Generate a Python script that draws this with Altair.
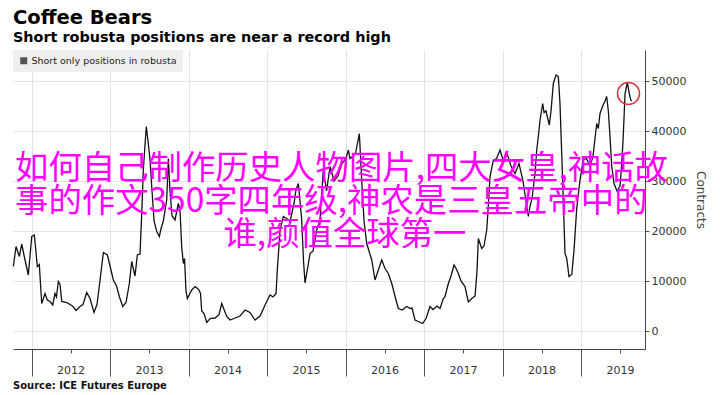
import altair as alt
import pandas as pd

# ---- data (decimal year, contracts) ----
years = [
    2011.768, 2011.803, 2011.845, 2011.875, 2011.917, 2011.959, 2012.003, 2012.036, 2012.074, 2012.099,
    2012.130, 2012.172, 2012.201, 2012.236, 2012.270, 2012.299, 2012.318, 2012.341, 2012.363, 2012.385,
    2012.448, 2012.490, 2012.529, 2012.567, 2012.618, 2012.656, 2012.703, 2012.745, 2012.796, 2012.834,
    2012.873, 2012.915, 2012.966, 2013.000, 2013.042, 2013.083, 2013.118, 2013.162, 2013.204, 2013.246,
    2013.276, 2013.318, 2013.348, 2013.382, 2013.404, 2013.424, 2013.462, 2013.484, 2013.510, 2013.535,
    2013.561, 2013.595, 2013.628, 2013.650, 2013.679, 2013.722, 2013.743, 2013.764, 2013.790, 2013.828,
    2013.870, 2013.892, 2013.913, 2013.934, 2013.949, 2013.968, 2013.985, 2014.041, 2014.083, 2014.108,
    2014.134, 2014.153, 2014.168, 2014.197, 2014.232, 2014.274, 2014.338, 2014.389, 2014.423, 2014.452,
    2014.487, 2014.529, 2014.580, 2014.656, 2014.720, 2014.783, 2014.847, 2014.911, 2014.975, 2015.038,
    2015.076, 2015.115, 2015.131, 2015.166, 2015.208, 2015.251, 2015.293, 2015.344, 2015.369, 2015.399,
    2015.442, 2015.465, 2015.484, 2015.522, 2015.548, 2015.586, 2015.633, 2015.675, 2015.717, 2015.758,
    2015.803, 2015.854, 2015.904, 2015.955, 2016.006, 2016.036, 2016.057, 2016.096, 2016.127, 2016.176,
    2016.206, 2016.236, 2016.270, 2016.299, 2016.334, 2016.376, 2016.418, 2016.461, 2016.503, 2016.545,
    2016.589, 2016.631, 2016.673, 2016.720, 2016.780, 2016.822, 2016.847, 2016.885, 2016.927, 2016.983,
    2017.025, 2017.076, 2017.115, 2017.166, 2017.204, 2017.246, 2017.268, 2017.310, 2017.344, 2017.382,
    2017.408, 2017.437, 2017.471, 2017.522, 2017.564, 2017.608, 2017.650, 2017.675, 2017.692, 2017.735,
    2017.764, 2017.799, 2017.819, 2017.841, 2017.883, 2017.924, 2017.968, 2018.010, 2018.057, 2018.108,
    2018.159, 2018.210, 2018.261, 2018.308, 2018.329, 2018.350, 2018.376, 2018.414, 2018.436, 2018.456,
    2018.478, 2018.512, 2018.529, 2018.554, 2018.596, 2018.618, 2018.647, 2018.682, 2018.711, 2018.732,
    2018.754, 2018.775, 2018.796, 2018.818, 2018.847, 2018.882, 2018.911, 2018.945, 2018.987, 2019.029,
    2019.070, 2019.115, 2019.153, 2019.178, 2019.200, 2019.220, 2019.242, 2019.276, 2019.306, 2019.327,
    2019.348, 2019.369, 2019.391, 2019.420, 2019.459, 2019.497, 2019.516, 2019.535, 2019.561, 2019.590,
    2019.615, 2019.633, 2019.646,
]
short_positions = [
    12900, 16900, 14900, 17400, 14200, 11200, 18900, 19200, 12900, 13300,
    5500, 7500, 6200, 5900, 5200, 7500, 6800, 9900, 9300, 5900,
    5700, 5300, 4900, 4100, 4900, 5300, 7700, 6500, 3700, 5300,
    10200, 15700, 15200, 13000, 10200, 9000, 6900, 4900, 5700, 9500,
    13900, 11000, 15200, 15400, 23500, 32200, 40900, 38000, 34200, 28000,
    22000, 19900, 18900, 20500, 22000, 26200, 34500, 28000, 23000, 22200,
    25500, 24000, 16900, 13500, 14500, 8000, 6500, 8200, 8900, 8600,
    8200, 7500, 4000, 3500, 1700, 2500, 2600, 3300, 5500, 4300,
    2900, 2200, 2500, 3000, 4200, 3700, 2200, 3000, 5200, 7200,
    6800, 7500, 12200, 20200, 22900, 22500, 21900, 25500, 28200, 29500,
    22200, 14000, 9600, 13000, 15500, 16000, 20200, 22200, 32200, 28000,
    32900, 30000, 31000, 33500, 34500, 36200, 34500, 35000, 35500, 39500,
    30200, 22000, 17500, 16000, 14200, 10200, 12200, 14200, 12500, 11500,
    9500, 6900, 4500, 4200, 4900, 4500, 4600, 2200, 1900, 1500,
    2500, 4900, 4300, 5000, 4500, 6500, 6900, 9500, 11000, 13200,
    12500, 11500, 10000, 8900, 5800, 6500, 7000, 12000, 18500, 16500,
    17000, 20200, 25000, 30900, 34200, 34500, 36200, 34000, 35500, 33000,
    31500, 33500, 30000, 25000, 22900, 24900, 26500, 31500, 36200, 38900,
    42200, 45500, 43700, 44000, 41200, 44000, 49500, 51200, 50900, 45500,
    35500, 25500, 15500, 14500, 10900, 11300, 16200, 24500, 30200, 34200,
    34500, 32900, 35000, 38500, 41500, 40500, 43500, 45000, 46000, 46900,
    44000, 39000, 33000, 29500, 28000, 29000, 33000, 38000, 47500, 49700,
    47500, 46200, 46000,
]
series_name = "Short only positions in robusta"

x_tick_values = [2012 + q / 4 for q in range(32)]      # quarterly ticks
y_tick_values = list(range(0, 50001, 5000))

highlight_year = [2019.605]
highlight_value = [47500]

overlay_lines = [
    "如何自己制作历史人物图片,四大女皇,神话故",
    "事的作文350字四年级,神农是三皇五帝中的",
    "谁,颜值全球第一",
]
source_text = "Source: ICE Futures Europe"

df = pd.DataFrame({"year": years, "contracts": short_positions})
df["series"] = series_name

x_scale = alt.Scale(domain=[2011.764, 2019.815], nice=False, zero=False)
y_scale = alt.Scale(domain=[-3600, 56200], nice=False, zero=False)

x_axis = alt.Axis(
    values=x_tick_values,
    labelExpr="datum.value % 1 == 0 ? format(datum.value, 'd') : ''",
    labelOffset=39, labelOverlap=False, labelFlush=False,
    labelFont="DejaVu Sans", labelFontSize=11, labelColor="#333", labelPadding=-12,
    tickSize={"condition": {"test": "datum.value % 1 == 0", "value": 27}, "value": 4},
    tickColor="#555", domainColor="#444",
    grid=True, gridColor="#e4e4e4",
    gridOpacity={"condition": {"test": "datum.value % 1 == 0", "value": 1}, "value": 0},
    title=None,
)
y_axis = alt.Axis(
    orient="right",
    values=y_tick_values,
    labelExpr="datum.value % 10000 == 0 ? format(datum.value, 'd') : ''",
    labelFont="DejaVu Sans", labelFontSize=11, labelColor="#333", labelPadding=2,
    tickSize=4, tickColor="#555", domainColor="#444",
    grid=True, gridColor="#e4e4e4",
    gridOpacity={"condition": {"test": "datum.value % 10000 == 0", "value": 1}, "value": 0},
    title="Contracts", titleFont="DejaVu Sans", titleFontSize=12, titleFontWeight="normal",
    titleColor="#444", titlePadding=8,
)

line = alt.Chart(df).mark_line(color="#111111", strokeWidth=1.3).encode(
    x=alt.X("year:Q", scale=x_scale, axis=x_axis),
    y=alt.Y("contracts:Q", scale=y_scale, axis=y_axis),
)

legend_layer = alt.Chart(df).transform_filter("false").mark_square().encode(
    color=alt.Color(
        "series:N",
        scale=alt.Scale(domain=[series_name], range=["#111111"]),
        legend=alt.Legend(
            title=None, orient="top-left", offset=0, padding=6,
            fillColor="#efefef", symbolType="square", symbolSize=49,
            symbolStrokeWidth=0, labelFont="DejaVu Sans", labelFontSize=9.5,
            labelColor="#222", labelOffset=3,
        ),
    )
)

circle = alt.Chart(pd.DataFrame({"year": highlight_year, "contracts": highlight_value})).mark_point(
    shape="circle", size=484, filled=False, color="#d8363a", strokeWidth=1.5, opacity=1
).encode(x="year:Q", y="contracts:Q")


def overlay(text, x, y, align):
    return alt.Chart(alt.Data(values=[{}])).mark_text(
        text=text, align=align, baseline="middle", font="Noto Sans CJK SC",
        fontSize=33.4, color="#ff00ff",
    ).encode(x=alt.value(x), y=alt.value(y))


texts = [
    overlay(overlay_lines[0], 2, 118.5, "left"),
    overlay(overlay_lines[1], 2, 152, "left"),
    overlay(overlay_lines[2], 332, 185, "center"),
]

source = alt.Chart(alt.Data(values=[{}])).mark_text(
    text=source_text, align="left", baseline="alphabetic", font="DejaVu Sans",
    fontSize=10, fontWeight="bold", color="#111",
).encode(x=alt.value(0), y=alt.value(339))

chart = alt.layer(line, legend_layer, circle, *texts, source).properties(
    width=632, height=299,
    padding={"left": 5, "top": 42, "right": 67, "bottom": 42},
    autosize=alt.AutoSizeParams(type="none"),
    title=alt.TitleParams(
        text="Coffee Bears", subtitle="Short robusta positions are near a record high",
        anchor="start", frame="group", offset=5, subtitlePadding=2,
        font="DejaVu Sans", fontSize=19.5, fontWeight="bold", color="#000",
        subtitleFont="DejaVu Sans", subtitleFontSize=14.4, subtitleFontWeight="bold",
        subtitleColor="#000",
    ),
).configure_view(stroke=None)

chart.save("out.html", embed_options={"renderer": "svg", "actions": False})
